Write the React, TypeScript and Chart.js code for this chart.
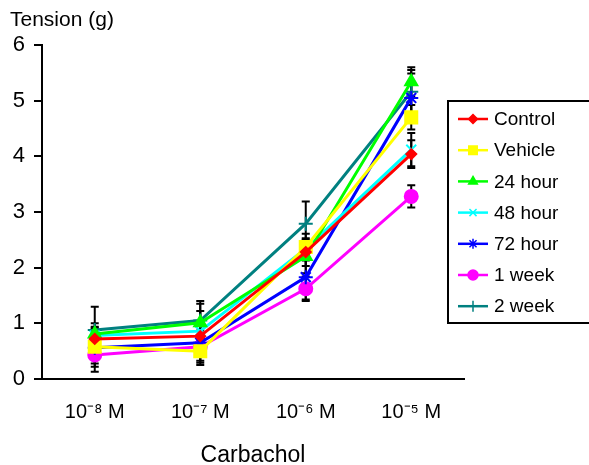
import React, { useEffect, useRef } from "react";
import { Chart, registerables } from "chart.js";
import { drawPoint } from "chart.js/helpers";

Chart.register(...registerables);

const categories = ["10\u207B\u2078 M", "10\u207B\u2077 M", "10\u207B\u2076 M", "10\u207B\u2075 M"];
const seriesNames = ["Control", "Vehicle", "24 hour", "48 hour", "72 hour", "1 week", "2 week"];
const control = [0.72, 0.77, 2.28, 4.04];
const vehicle = [0.58, 0.5, 2.37, 4.7];
const hour24 = [0.81, 1.01, 2.2, 5.34];
const hour48 = [0.78, 0.86, 2.34, 4.12];
const hour72 = [0.56, 0.65, 1.83, 5.05];
const week1 = [0.43, 0.58, 1.62, 3.28];
const week2 = [0.88, 1.05, 2.79, 5.16];
const controlErr = [0.2, 0.2, 0.25, 0.25];
const vehicleErr = [0.3, 0.25, 0.24, 0.22];
const hour24Err = [0.19, 0.34, 0.3, 0.26];
const hour48Err = [0.16, 0.36, 0.15, 0.3];
const hour72Err = [0.34, 0.32, 0.4, 0.44];
const week1Err = [0.3, 0.29, 0.22, 0.2];
const week2Err = [0.42, 0.35, 0.4, 0.39];
const yTicks = [0, 1, 2, 3, 4, 5, 6];

const values = [control, vehicle, hour24, hour48, hour72, week1, week2];
const errors = [controlErr, vehicleErr, hour24Err, hour48Err, hour72Err, week1Err, week2Err];
const colors = ["#FF0000", "#FFFF00", "#00FF00", "#00FFFF", "#0000FF", "#FF00FF", "#008080"];
const styles = ["rectRot", "rect", "triangle", "crossRot", "star", "circle", "cross"];
const radii = [5, 8.5, 7, 7, 7, 6.5, 7];
const legendRadii = [4.5, 6, 5, 5, 5, 5, 5.5];

const FONT = "'Liberation Sans', Arial, sans-serif";

const errorBarPlugin = {
  id: "errorBars",
  beforeDatasetsDraw(chart: any) {
    const ctx = chart.ctx;
    const yScale = chart.scales.y;
    ctx.save();
    ctx.strokeStyle = "#000";
    ctx.lineWidth = 2;
    chart.data.datasets.forEach((ds: any, di: number) => {
      const meta = chart.getDatasetMeta(di);
      meta.data.forEach((pt: any, i: number) => {
        const v = ds.data[i];
        const e = errors[di][i];
        const yTop = yScale.getPixelForValue(v + e);
        const yBot = yScale.getPixelForValue(v - e);
        const x = pt.x;
        ctx.beginPath();
        ctx.moveTo(x, yTop);
        ctx.lineTo(x, yBot);
        ctx.moveTo(x - 4, yTop);
        ctx.lineTo(x + 4, yTop);
        ctx.moveTo(x - 4, yBot);
        ctx.lineTo(x + 4, yBot);
        ctx.stroke();
      });
    });
    ctx.restore();
  },
};

const overlayPlugin = {
  id: "overlay",
  afterDraw(chart: any) {
    const ctx = chart.ctx;
    ctx.save();
    ctx.fillStyle = "#000";
    ctx.font = `21px ${FONT}`;
    ctx.textBaseline = "middle";
    ctx.textAlign = "left";
    ctx.fillText("Tension (g)", 10, 20);

    const bx = 448;
    const by = 101;
    const bh = 222;
    ctx.fillStyle = "#fff";
    ctx.fillRect(bx, by, 200, bh);
    ctx.strokeStyle = "#000";
    ctx.lineWidth = 2;
    ctx.strokeRect(bx, by, 200, bh);
    chart.data.datasets.forEach((ds: any, i: number) => {
      const y = 119 + i * 31.2;
      ctx.strokeStyle = colors[i];
      ctx.lineWidth = 2.5;
      ctx.beginPath();
      ctx.moveTo(458, y);
      ctx.lineTo(488, y);
      ctx.stroke();
      ctx.fillStyle = colors[i];
      ctx.strokeStyle = colors[i];
      ctx.lineWidth = 1.5;
      drawPoint(ctx, { pointStyle: styles[i], radius: legendRadii[i], rotation: 0, borderWidth: 1.5 } as any, 473, y);
      ctx.fillStyle = "#000";
      ctx.font = `19px ${FONT}`;
      ctx.textAlign = "left";
      ctx.textBaseline = "middle";
      ctx.fillText(ds.label, 494, y + 1);
    });
    ctx.restore();
  },
};

export default function App() {
  const ref = useRef<HTMLCanvasElement>(null);
  useEffect(() => {
    if (!ref.current) return;
    const chart = new Chart(ref.current, {
      type: "line",
      data: {
        labels: categories,
        datasets: values.map((vals, i) => ({
          label: seriesNames[i],
          data: vals,
          borderColor: colors[i],
          backgroundColor: colors[i],
          pointBackgroundColor: colors[i],
          pointBorderColor: colors[i],
          pointStyle: styles[i] as any,
          pointRadius: radii[i],
          pointBorderWidth: 2,
          borderWidth: 3,
          tension: 0,
          fill: false,
        })),
      },
      options: {
        responsive: false,
        animation: false,
        devicePixelRatio: 1,
        layout: { padding: { left: 0, right: 125, top: 45, bottom: 0 } },
        plugins: {
          legend: { display: false },
          tooltip: { enabled: false },
          title: { display: false },
        },
        scales: {
          x: {
            type: "category",
            offset: true,
            grid: { display: true, drawOnChartArea: false, drawTicks: false, color: "transparent" },
            border: { display: true, color: "#000", width: 2 },
            ticks: { color: "#000", font: { family: FONT, size: 20 }, padding: 21, maxRotation: 0, autoSkip: false },
            title: {
              display: true,
              text: "Carbachol",
              color: "#000",
              font: { family: FONT, size: 23, lineHeight: 0.8 },
              padding: { top: 0, bottom: 0 },
            },
            afterFit(scale: any) {
              scale.height = 86;
            },
          },
          y: {
            min: 0,
            max: 6,
            afterBuildTicks(scale: any) {
              scale.ticks = yTicks.map((v) => ({ value: v }));
            },
            grid: { display: true, drawOnChartArea: false, drawTicks: true, tickLength: 8, color: "#000", lineWidth: 2 },
            border: { display: true, color: "#000", width: 2 },
            ticks: { color: "#000", font: { family: FONT, size: 22 }, padding: 9 },
            afterFit(scale: any) {
              scale.width = 42;
            },
          },
        },
      },
      plugins: [errorBarPlugin, overlayPlugin],
    });
    return () => chart.destroy();
  }, []);
  return (
    <div style={{ position: "fixed", left: 0, top: 0, width: 589, height: 465, background: "#fff" }}>
      <canvas ref={ref} width={589} height={465} style={{ width: 589, height: 465 }} />
    </div>
  );
}
